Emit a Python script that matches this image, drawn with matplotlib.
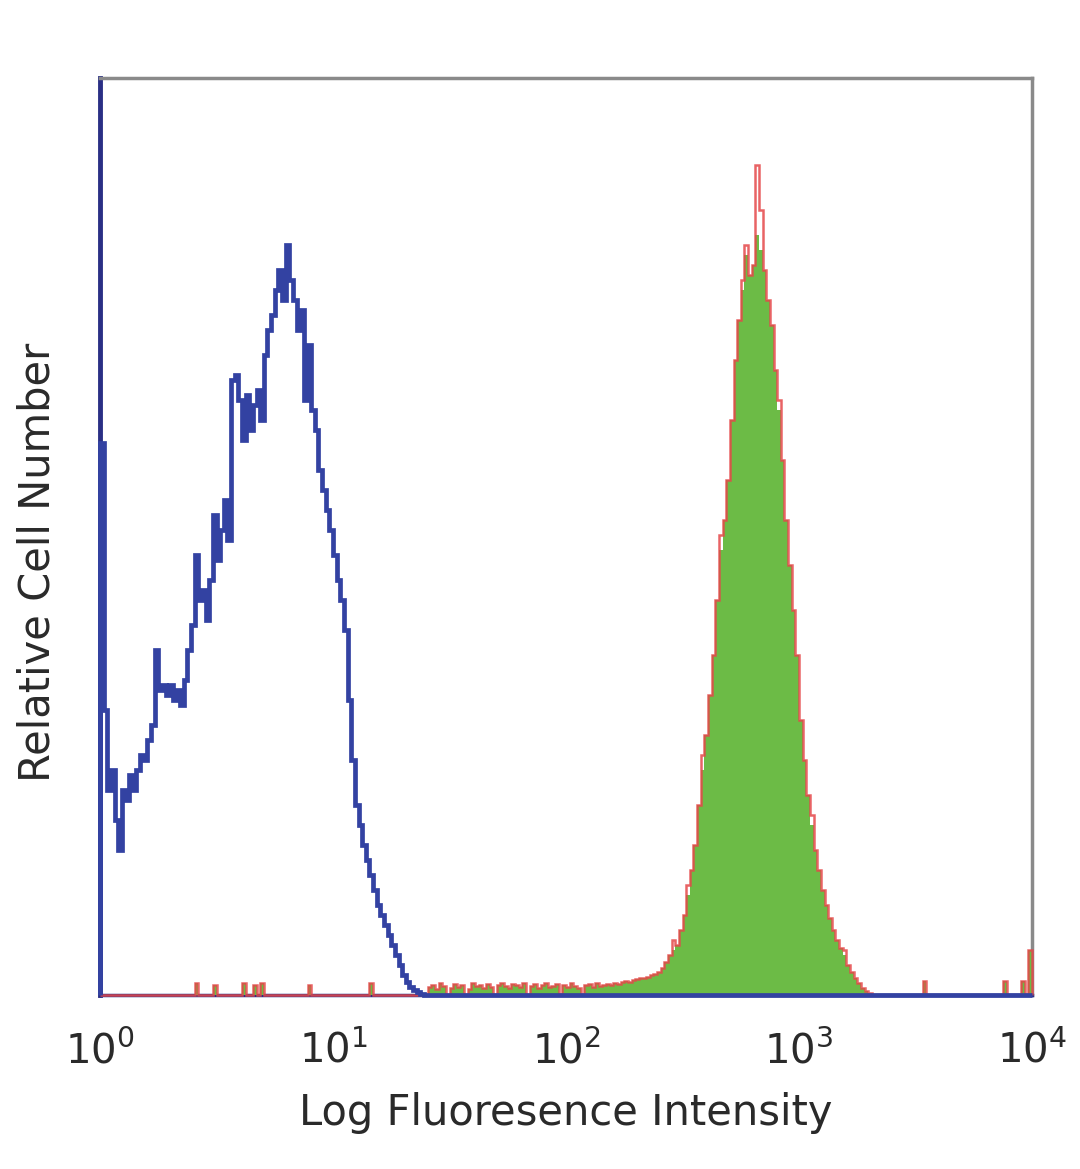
import numpy as np
import matplotlib
matplotlib.use("Agg")
import matplotlib.pyplot as plt

# 256 log channels spanning 10^0 .. 10^4
n_channels = 256
edges = np.logspace(0, 4, n_channels + 1)

# unstained control, channels 0..88 (blue outline)
blue_counts = [552, 285, 205, 225, 175, 145, 205, 195, 220, 205,
               225, 240, 235, 255, 270, 345, 305, 310, 300, 310,
               295, 305, 290, 315, 345, 370, 440, 395, 405, 375,
               415, 480, 435, 465, 495, 455, 615, 620, 595, 555,
               600, 565, 590, 605, 575, 640, 665, 680, 705, 725,
               695, 750, 715, 695, 665, 685, 595, 650, 585, 565,
               525, 505, 485, 465, 440, 415, 395, 365, 295, 235,
               190, 170, 150, 135, 120, 105, 90, 80, 70, 60,
               50, 40, 30, 20, 13, 8, 5, 3, 1]

# stained sample (green fill): low background from channel 89, peak from 140
green_noise_start = 89
green_noise = [0, 8, 10, 6, 12, 9, 0, 7, 11, 8, 10, 0, 6, 12, 9, 10, 7,
               11, 8, 0, 10, 12, 9, 7, 11, 10, 8, 12, 0, 9, 11, 7, 10, 12,
               8, 9, 11, 0, 10, 8, 12, 9, 7, 0, 10, 11, 8, 12, 9, 10, 11]
green_peak_start = 140
green_peak = [10, 12, 11, 13, 14, 13, 15, 16, 17, 17,
              18, 20, 21, 23, 27, 33, 40, 45, 50, 65,
              80, 100, 125, 150, 190, 225, 260, 300, 340, 395,
              445, 475, 515, 575, 635, 675, 705, 740, 720, 730,
              760, 745, 725, 695, 670, 625, 585, 535, 475, 430,
              385, 340, 275, 235, 200, 170, 145, 125, 105, 90,
              77, 65, 55, 47, 40, 30, 23, 17, 12, 7, 4, 2]
# stray events outside the main range
green_spike_ch = [26, 31, 39, 42, 44, 57, 74, 226, 248, 253, 255]
green_spike_val = [12, 10, 12, 10, 12, 10, 12, 14, 14, 14, 45]

# red outline where it differs from the green fill
red_diff_ch = [157, 161, 165, 170, 176, 177, 180, 181, 186, 195, 204]
red_diff_val = [55, 110, 240, 460, 715, 750, 830, 785, 595, 180, 45]

blue = np.zeros(n_channels)
blue[:len(blue_counts)] = blue_counts
green = np.zeros(n_channels)
green[green_noise_start:green_noise_start + len(green_noise)] = green_noise
green[green_peak_start:green_peak_start + len(green_peak)] = green_peak
green[green_spike_ch] = green_spike_val
red = green.copy()
red[red_diff_ch] = red_diff_val

fig = plt.figure(figsize=(10.8, 11.69), dpi=100)
ax = fig.add_axes([0.0926, 0.1488, 0.8630, 0.7845])

ax.stairs(green, edges, fill=True, color='#6cbb46', zorder=3)
ax.stairs(red, edges, color='#e5484a', lw=1.8, alpha=0.85, zorder=3.5, clip_on=False)
ax.stairs(blue, edges, color='#3342a2', lw=3.4, zorder=4, clip_on=False)

ax.set_xscale('log')
ax.set_xlim(1, 1e4)
ax.set_ylim(0, 917)
ax.set_xticks([1, 10, 100, 1000, 10000])
ax.set_xticklabels([r'$10^{%d}$' % k for k in range(5)])
ax.minorticks_off()
ax.set_yticks([])
ax.tick_params(axis='x', length=0, pad=26, labelsize=29, labelcolor='#2a2a2a')

for side in ['top', 'right']:
    ax.spines[side].set_color('#8a8a8a')
    ax.spines[side].set_linewidth(2.5)
ax.spines['left'].set_color('#2a2f85')
ax.spines['left'].set_linewidth(3.5)
ax.spines['bottom'].set_color('#2a2f85')
ax.spines['bottom'].set_linewidth(2.5)

ax.set_xlabel('Log Fluoresence Intensity', fontsize=30, color='#2a2a2a', labelpad=14)
ax.set_ylabel('Relative Cell Number', fontsize=30, color='#2a2a2a')
ax.yaxis.set_label_coords(-0.045, 0.472)

fig.savefig('out.png', dpi=100)
